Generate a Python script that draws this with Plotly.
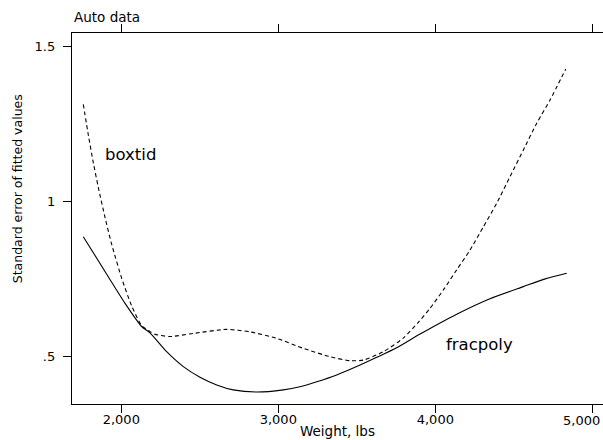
import plotly.graph_objects as go

# boxtid (dashed) standard error curve
boxtid_weight = [1758, 1790, 1822, 1854, 1896, 1939, 2003, 2066, 2130, 2183, 2215, 2310,
                 2459, 2671, 2820, 2990, 3159, 3329, 3456, 3541, 3669, 3796, 3892, 3966,
                 4051, 4136, 4221, 4306, 4391, 4476, 4561, 4646, 4731, 4831]
boxtid_se = [1.314, 1.215, 1.125, 1.045, 0.950, 0.862, 0.752, 0.664, 0.600, 0.581, 0.572, 0.565,
             0.575, 0.588, 0.580, 0.559, 0.527, 0.500, 0.487, 0.489, 0.516, 0.560, 0.611, 0.656,
             0.715, 0.780, 0.844, 0.919, 0.995, 1.081, 1.167, 1.253, 1.328, 1.428]

# fracpoly (solid) standard error curve
fracpoly_weight = [1758, 1917, 2024, 2130, 2183, 2289, 2395, 2501, 2608, 2713, 2862, 3032,
                   3138, 3245, 3372, 3499, 3627, 3754, 3903, 4136, 4348, 4561, 4700, 4837]
fracpoly_se = [0.887, 0.758, 0.672, 0.597, 0.577, 0.516, 0.468, 0.434, 0.409, 0.393, 0.386, 0.393,
               0.403, 0.419, 0.441, 0.468, 0.498, 0.529, 0.573, 0.637, 0.687, 0.726, 0.751, 0.769]

x_ticks = [2000, 3000, 4000, 5000]
x_tick_labels = ["2,000", "3,000", "4,000", "5,000"]
y_ticks = [0.5, 1.0, 1.5]
y_tick_labels = [".5", "1", "1.5"]

FONT = "DejaVu Sans"
X_RANGE = [1686, 5068]
Y_RANGE = [0.3474, 1.544]

fig = go.Figure()
fig.add_trace(go.Scatter(x=boxtid_weight, y=boxtid_se, mode="lines",
                         line=dict(color="black", width=1.1, dash="4px,3px", shape="spline", smoothing=0.6),
                         showlegend=False, hoverinfo="skip"))
fig.add_trace(go.Scatter(x=fracpoly_weight, y=fracpoly_se, mode="lines",
                         line=dict(color="black", width=1.1, shape="spline", smoothing=0.6),
                         showlegend=False, hoverinfo="skip"))
# invisible trace to activate the top axis
fig.add_trace(go.Scatter(x=[X_RANGE[0]], y=[Y_RANGE[0]], xaxis="x2", mode="markers",
                         marker=dict(opacity=0), showlegend=False, hoverinfo="skip"))

axis_common = dict(showgrid=False, zeroline=False, showline=True, linecolor="black",
                   linewidth=1.3, ticks="outside", ticklen=8, tickwidth=1.2, tickcolor="black",
                   automargin=False, fixedrange=True)

# the last bottom tick label is shifted inward so it stays inside the figure
inner_labels = x_tick_labels[:-1] + [""]

fig.update_layout(
    width=603, height=440,
    margin=dict(l=72, r=0, t=33, b=36, autoexpand=False),
    paper_bgcolor="white", plot_bgcolor="white",
    font=dict(family=FONT, size=13, color="black"),
    xaxis=dict(range=X_RANGE, tickvals=x_ticks, ticktext=inner_labels,
               tickfont=dict(size=13), ticklabelstandoff=-5, **axis_common),
    xaxis2=dict(range=X_RANGE, overlaying="x", side="top", tickvals=x_ticks,
                showticklabels=False, **axis_common),
    yaxis=dict(range=Y_RANGE, tickvals=y_ticks, ticktext=y_tick_labels,
               tickfont=dict(size=13), ticklabelstandoff=5, **axis_common),
    annotations=[
        dict(text=x_tick_labels[-1], xref="x", yref="paper", x=x_ticks[-1], y=0, yshift=-16,
             xshift=9, xanchor="right", yanchor="middle", showarrow=False,
             font=dict(size=13), borderpad=0),
        dict(text="Auto data", xref="paper", yref="paper", x=0, y=1, yshift=16,
             xanchor="left", yanchor="middle", showarrow=False, font=dict(size=13.5)),
        dict(text="Weight, lbs", xref="paper", yref="paper", x=0.5, y=0, yshift=-37,
             xanchor="center", yanchor="bottom", showarrow=False, font=dict(size=13.5)),
        dict(text="Standard error of fitted values", xref="paper", yref="y", x=0, xshift=-55,
             y=1.04, textangle=-90, xanchor="center", yanchor="middle", showarrow=False,
             font=dict(size=12.5)),
        dict(text="boxtid", xref="x", yref="y", x=1883, y=1.151, xanchor="left",
             yanchor="middle", showarrow=False, font=dict(size=16.5)),
        dict(text="fracpoly", xref="x", yref="y", x=4055, y=0.538, xanchor="left",
             yanchor="middle", showarrow=False, font=dict(size=16.5)),
    ],
)

fig.write_html("out.html", config={"displayModeBar": False},
               post_script="document.body.style.margin='0';document.body.style.overflow='hidden';")
